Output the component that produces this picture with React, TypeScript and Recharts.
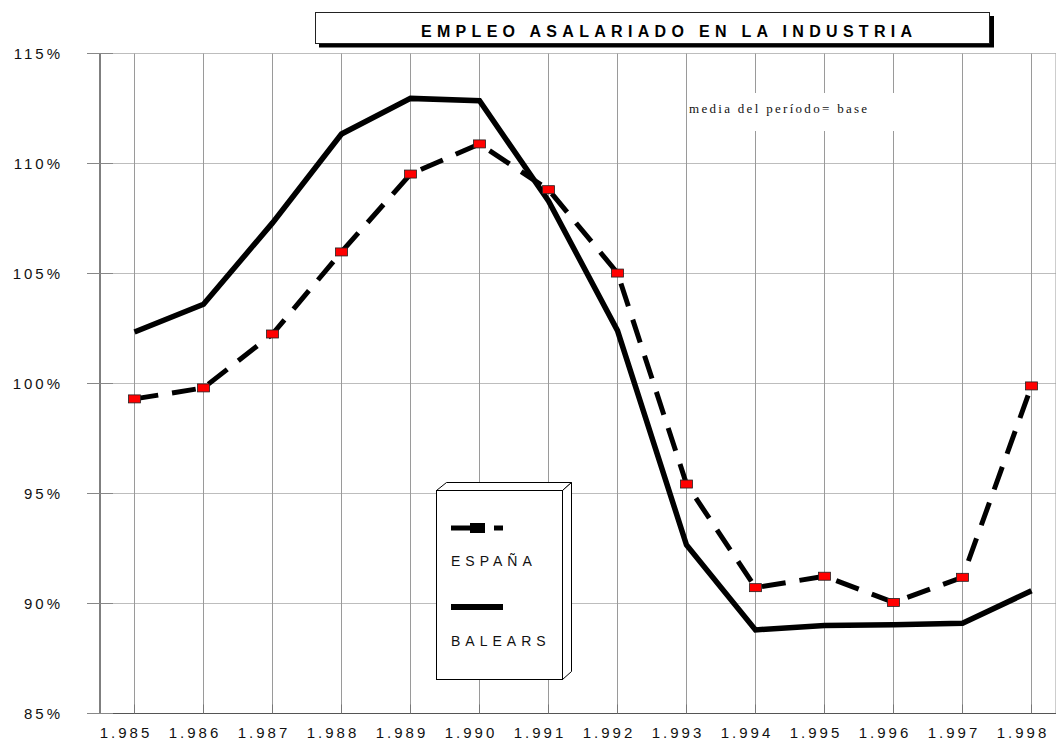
import { CartesianGrid, Legend, Line, LineChart, XAxis, YAxis } from 'recharts'

const years = [1985, 1986, 1987, 1988, 1989, 1990, 1991, 1992, 1993, 1994, 1995, 1996, 1997, 1998]
const espana = [99.3, 99.8, 102.25, 105.98, 109.52, 110.89, 108.81, 105.02, 95.43, 90.72, 91.24, 90.05, 91.19, 99.89]
const balears = [102.34, 103.6, 107.3, 111.34, 112.96, 112.85, 108.3, 102.4, 92.66, 88.8, 89.0, 89.03, 89.1, 90.58]
const yTicks = [85, 90, 95, 100, 105, 110, 115]

const TITLE = 'EMPLEO ASALARIADO EN LA INDUSTRIA'
const NOTE = 'media del período= base'

const SANS = '"Liberation Sans", Arial, sans-serif'
const SERIF = '"Liberation Serif", "Times New Roman", serif'

const data = years.map((y, i) => ({ year: y, espana: espana[i], balears: balears[i] }))

// year label like "1.985"
const fmtYear = (v: number) => `${Math.floor(v / 1000)}.${String(v % 1000).padStart(3, '0')}`

function YTick(props: any) {
  const { x, y, payload } = props
  return (
    <g>
      <line x1={x - 13} x2={x + 13} y1={y} y2={y} stroke="#888" strokeWidth={1} />
      <text x={x - 37} y={y + 5.4} textAnchor="end" fontSize={15} fontFamily={SANS} letterSpacing={3} fill="#111">
        {payload.value}%
      </text>
    </g>
  )
}

function XTick(props: any) {
  const { x, y, payload } = props
  return (
    <g>
      <line x1={x} x2={x} y1={y - 9} y2={y} stroke="#777" strokeWidth={1} />
      <text x={x - 8.5} y={y + 24.5} textAnchor="middle" fontSize={15} fontFamily={SANS} letterSpacing={3} fill="#111">
        {fmtYear(payload.value)}
      </text>
    </g>
  )
}

function SquareDot(props: any) {
  const { cx, cy } = props
  if (cx == null || cy == null) return null
  return <rect x={cx - 6} y={cy - 4} width={12} height={8} fill="#ff0000" stroke="#222" strokeWidth={0.8} />
}

function BoxLegend() {
  return (
    <svg width={145} height={210} style={{ display: 'block' }}>
      <g transform="translate(-432,-479)">
        <polygon points="436.5,490.5 446.5,482.5 571.5,482.5 562.5,490.5" fill="#fff" stroke="#000" />
        <polygon points="562.5,490.5 571.5,482.5 571.5,671.5 562.5,679.5" fill="#fff" stroke="#000" />
        <rect x={436.5} y={490.5} width={126} height={189} fill="#fff" stroke="#000" />
        <line x1={451} x2={484} y1={528} y2={528} stroke="#000" strokeWidth={5} />
        <rect x={470} y={523} width={15} height={10} fill="#000" />
        <line x1={494} x2={503} y1={528} y2={528} stroke="#000" strokeWidth={5} />
        <text x={451} y={566} fontSize={14} fontFamily={SANS} letterSpacing={5} fill="#111">ESPAÑA</text>
        <line x1={451} x2={503} y1={607} y2={607} stroke="#000" strokeWidth={6} />
        <text x={451} y={646} fontSize={14} fontFamily={SANS} letterSpacing={5} fill="#111">BALEARS</text>
      </g>
    </svg>
  )
}

export default function App() {
  return (
    <div style={{ position: 'absolute', left: 0, top: 0, width: 1056, height: 740, overflow: 'hidden', background: '#fff' }}>
      <LineChart width={1056} height={740} data={data} margin={{ top: 53.5, right: 0, bottom: 0, left: 0 }}>
        <CartesianGrid vertical={false} stroke="#bdbdbd" strokeWidth={1} />
        <CartesianGrid horizontal={false} stroke="#9a9a9a" strokeWidth={1} />
        <XAxis
          dataKey="year"
          type="number"
          domain={[1984.5, 1998.355]}
          ticks={years}
          height={26.5}
          tickLine={false}
          tickSize={0}
          tickMargin={0}
          tick={<XTick />}
          axisLine={{ stroke: '#555' }}
          interval={0}
        />
        <YAxis
          type="number"
          domain={[85, 115]}
          ticks={yTicks}
          width={100}
          tickLine={false}
          tickSize={0}
          tickMargin={0}
          tick={<YTick />}
          axisLine={{ stroke: '#333' }}
          interval={0}
        />
        <Legend
          layout="horizontal"
          verticalAlign="middle"
          align="center"
          content={() => <BoxLegend />}
          wrapperStyle={{ left: 432, top: 479, width: 145, height: 210 }}
        />
        <Line
          dataKey="balears"
          name="BALEARS"
          stroke="#000"
          strokeWidth={5.5}
          dot={false}
          activeDot={false}
          strokeLinejoin="miter"
          isAnimationActive={false}
        />
        <Line
          dataKey="espana"
          name="ESPAÑA"
          stroke="#000"
          strokeWidth={5}
          strokeDasharray="24 14"
          dot={<SquareDot />}
          activeDot={false}
          isAnimationActive={false}
        />
      </LineChart>
      <svg width={1056} height={740} style={{ position: 'absolute', left: 0, top: 0, pointerEvents: 'none' }}>
        <rect x={319} y={16} width={675} height={31.5} fill="#000" />
        <rect x={315.5} y={12.5} width={674} height={31} fill="#fff" stroke="#222" strokeWidth={1} />
        <text x={421} y={37} fontSize={16} fontWeight="bold" fontFamily={SANS} letterSpacing={5.3} fill="#000">
          {TITLE}
        </text>
        <rect x={688} y={93} width={212} height={38} fill="#fff" />
        <text x={689} y={113} fontSize={13} fontFamily={SERIF} letterSpacing={2.3} fill="#111">
          {NOTE}
        </text>
      </svg>
    </div>
  )
}
